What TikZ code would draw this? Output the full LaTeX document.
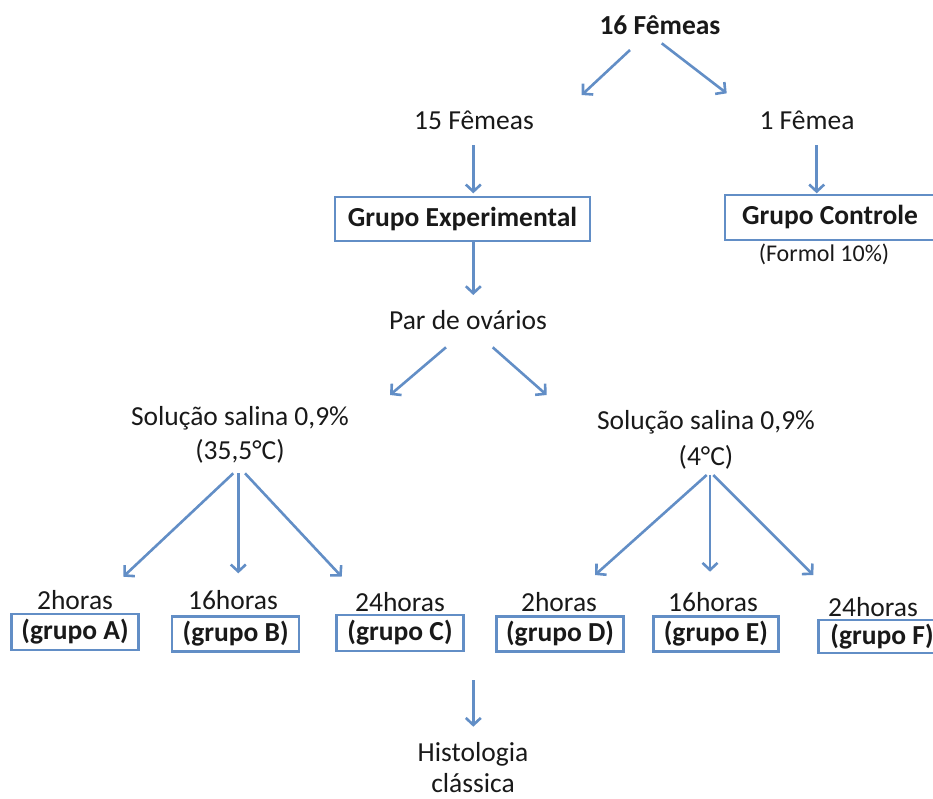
\documentclass[tikz,border=0pt]{standalone}
\usepackage{fontspec}
\setmainfont{Carlito}
\usetikzlibrary{arrows.meta,calc}
\definecolor{linecol}{RGB}{98,142,198}
\definecolor{txtcol}{RGB}{25,25,25}
\begin{document}
\begin{tikzpicture}[x=1pt,y=-1pt,
  every node/.style={inner sep=0pt,text=txtcol,font=\fontsize{27.5}{34}\selectfont},
  lbl/.style={align=center},
  boldlbl/.style={font=\fontsize{27.5}{34}\selectfont\bfseries},
  boxed/.style={draw=linecol,line width=2.4pt,font=\fontsize{27.5}{34}\selectfont\bfseries},
  arr/.style={draw=linecol,line width=2.6pt,-{Straight Barb[length=7pt,width=15pt]}}]
\useasboundingbox (0,0) rectangle (933,798);
\clip (0,0) rectangle (933,798);

% top level
\node[boldlbl] (f16) at (660,25) {16 Fêmeas};
\node (f15) at (474,120) {15 Fêmeas};
\node (f1) at (807,120) {1 Fêmea};
\node[boxed,minimum width=255pt,minimum height=44pt] (ge) at (462.5,218.7) {Grupo Experimental};
\node[boxed,minimum width=210pt,minimum height=45pt] (gc) at (830,217.5) {Grupo Controle};
\node[font=\fontsize{24}{28}\selectfont] (formol) at (824,254) {(Formol 10\%)};
\node (par) at (468,320) {Par de ovários};

% solutions
\node[lbl,font=\fontsize{27.5}{34}\selectfont] (sl) at (240,435) {Solução salina 0,9\%\\(35,5°C)};
\node[lbl,font=\fontsize{27.5}{36}\selectfont] (sr) at (706,440) {Solução salina 0,9\%\\(4°C)};

% hour labels
\node (hA) at (75,600) {2horas};
\node (hB) at (233,600) {16horas};
\node (hC) at (400,602) {24horas};
\node (hD) at (559,602) {2horas};
\node (hE) at (713,602) {16horas};
\node (hF) at (873,607) {24horas};

% group boxes
\node[boxed,minimum width=127pt,minimum height=36pt] (gA) at (75,632) {(grupo A)};
\node[boxed,minimum width=127pt,minimum height=35pt] (gB) at (235.7,634) {(grupo B)};
\node[boxed,minimum width=127pt,minimum height=36pt] (gC) at (400,633) {(grupo C)};
\node[boxed,minimum width=127pt,minimum height=35pt] (gD) at (560,634) {(grupo D)};
\node[boxed,minimum width=125pt,minimum height=35pt] (gE) at (715.8,634) {(grupo E)};
\node[boxed,minimum width=127pt,minimum height=33pt] (gF) at (882,636.7) {(grupo F)};

% histology
\node[lbl,font=\fontsize{27.5}{31}\selectfont] (hist) at (473,768) {Histologia\\clássica};
\coordinate (allgroups) at (473.3,680);

% arrows
\draw[arr] ($(f16)+(-30,25)$) -- ($(f15)+(107.7,-25)$);
\draw[arr] ($(f16)+(1.7,18.3)$) -- ($(f1)+(-80.3,-26.7)$);
\draw[arr] ($(f15)+(-0.7,25)$) -- ($(ge)+(10.8,-25.4)$);
\draw[arr] ($(f1)+(9.7,25)$) -- ($(gc)+(-13.3,-24.2)$);
\draw[arr] ($(ge)+(10.8,22.3)$) -- ($(par)+(5.3,-25)$);
\draw[arr] ($(par)+(-22,27.3)$) -- ($(sl)+(150,-40)$);
\draw[arr] ($(par)+(24.7,27.3)$) -- ($(sr)+(-159.3,-45)$);
\draw[arr] ($(sl)+(-6.7,38.3)$) -- ($(hA)+(48.3,-23.3)$);
\draw[arr] ($(sl)+(-1.7,38)$) -- ($(hB)+(5.3,-26.7)$);
\draw[arr] ($(sl)+(5,38.3)$) -- ($(hC)+(-58.3,-25.3)$);
\draw[arr] ($(sr)+(0.7,35)$) -- ($(hD)+(36,-27)$);
\draw[arr] ($(sr)+(4,35)$) -- ($(hE)+(-3,-30.3)$);
\draw[arr] ($(sr)+(7.3,35)$) -- ($(hF)+(-59.7,-32)$);
\draw[arr] (allgroups) -- ($(hist)+(0.3,-41.3)$);
\end{tikzpicture}
\end{document}
